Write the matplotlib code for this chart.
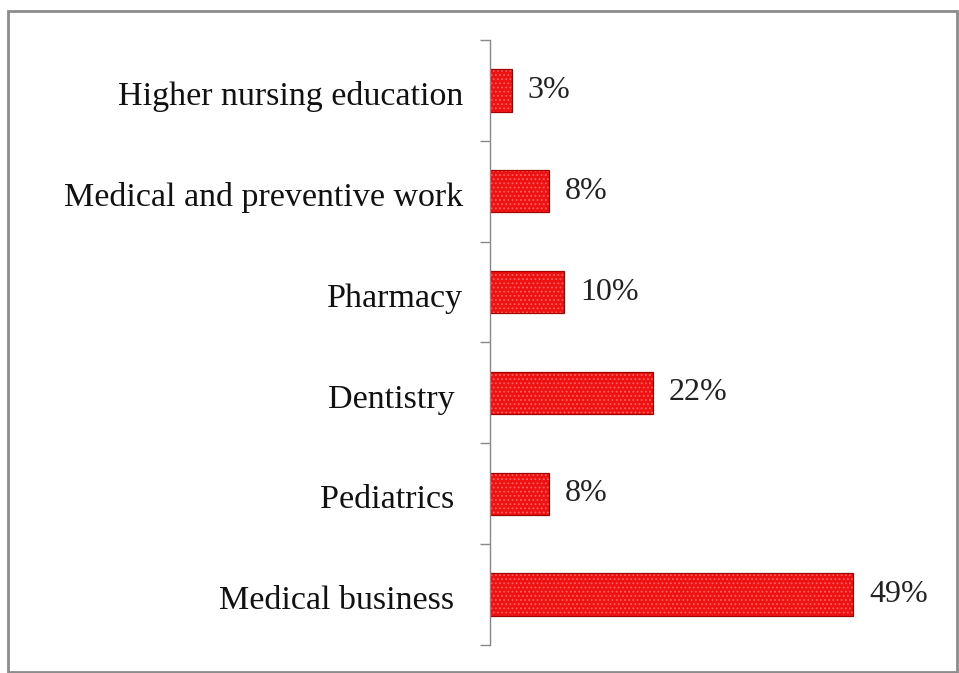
import matplotlib.pyplot as plt
import numpy as np
from matplotlib.patches import Rectangle
from matplotlib.transforms import ScaledTranslation

# data, read top to bottom (trailing spaces as in the source labels)
categories = ['Higher nursing education', 'Medical and preventive work', 'Pharmacy',
              'Dentistry ', 'Pediatrics ', 'Medical business ']
values = [3, 8, 10, 22, 8, 49]

plt.rcParams['font.family'] = ['Liberation Serif', 'DejaVu Serif']
plt.rcParams['hatch.linewidth'] = 0.8

fig = plt.figure(figsize=(9.59, 6.73), dpi=100)
ax = fig.add_axes([0.511, 0.0416, 0.464, 0.899])

y = np.arange(len(categories))
# fill with light dotted texture, then dark outline on top
ax.barh(y, values, height=0.42, color='#ee1111', edgecolor='#ff6060',
        linewidth=0, hatch='....')
ax.barh(y, values, height=0.42, fill=False, edgecolor='#a00000', linewidth=0.9)
for yi, v in zip(y, values):
    ax.text(v + 2.1, yi, f'{v}%', va='center', ha='left', fontsize=23, color='#222222')

ax.set_ylim(len(categories) - 0.5, -0.5)
ax.set_xlim(0, 60)
ax.set_yticks(y)
ax.set_yticklabels(categories, fontsize=24.5, color='#111111')
ax.tick_params(axis='y', which='major', length=0, pad=19.5)
shift = ScaledTranslation(0, -3 / 100, fig.dpi_scale_trans)
for lbl in ax.get_yticklabels():
    lbl.set_transform(lbl.get_transform() + shift)
ax.set_yticks(np.arange(-0.5, len(categories)), minor=True)
ax.tick_params(axis='y', which='minor', length=7, color='#888888', width=1)
ax.set_xticks([])
for s in ['top', 'right', 'bottom']:
    ax.spines[s].set_visible(False)
ax.spines['left'].set_color('#888888')
ax.spines['left'].set_linewidth(1)

# outer frame
fig.patches.append(Rectangle((8 / 959, 1.5 / 673), 949 / 959, 661 / 673, transform=fig.transFigure,
                             fill=False, edgecolor='#8c8c8c', linewidth=2))

fig.savefig('out.png', dpi=100)
